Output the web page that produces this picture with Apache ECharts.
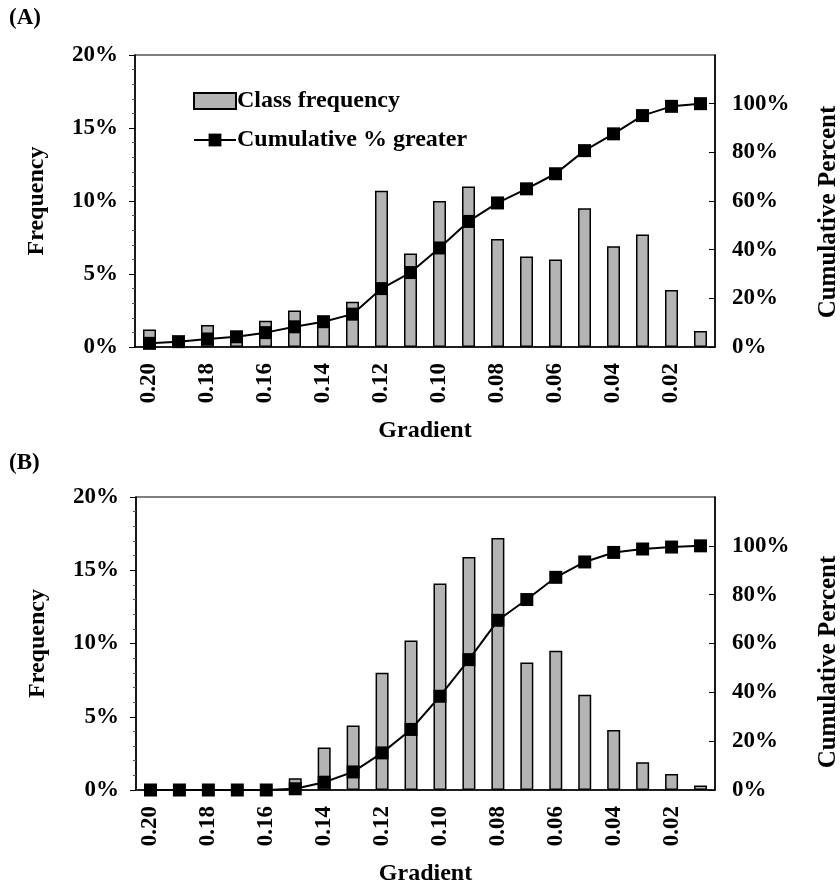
<!DOCTYPE html>
<html>
<head>
<meta charset="utf-8">
<script src="https://cdn.jsdelivr.net/npm/echarts@6/dist/echarts.min.js"></script>
<style>html,body{margin:0;padding:0;background:#fff;}#c{width:840px;height:887px;}</style>
</head>
<body>
<div id="c"></div>
<script>
const categories = ['0.20','0.19','0.18','0.17','0.16','0.15','0.14','0.13','0.12','0.11','0.10','0.09','0.08','0.07','0.06','0.05','0.04','0.03','0.02','0.01'];
const freqA = [1.2,0.4,1.5,0.6,1.8,2.5,1.8,3.1,10.7,6.4,10.0,11.0,7.4,6.2,6.0,9.5,6.9,7.7,3.9,1.1];
const cumA  = [1.5,2.2,3.3,4.2,5.9,8.3,10.4,13.5,24.0,30.6,40.7,51.6,59.2,65.0,71.2,80.7,87.6,95.1,98.9,100];
const freqB = [0,0,0,0,0,0.8,2.9,4.4,8.0,10.2,14.1,15.9,17.2,8.7,9.5,6.5,4.1,1.9,1.1,0.3];
const cumB  = [0,0,0,0,0,0.5,3.2,7.4,15.2,24.8,38.4,53.4,69.5,78.0,87.1,93.4,97.3,98.7,99.5,100];
const freqTicks = {min:0, max:20, interval:5};
const cumTicks = {min:0, max:120, interval:20};

const FONT = 'Liberation Serif';
const chart = echarts.init(document.getElementById('c'), null, {renderer:'canvas'});

function xAx(gi){
  return {
    type:'category', gridIndex:gi, data:categories, boundaryGap:true,
    axisLine:{lineStyle:{color:'#000', width:1.5}},
    axisTick:{show:false},
    axisLabel:{interval:1, rotate:90, margin:16, color:'#000', fontFamily:FONT, fontWeight:'bold', fontSize:23},
    name:'Gradient', nameLocation:'middle', nameGap:72,
    nameTextStyle:{color:'#000', fontFamily:FONT, fontWeight:'bold', fontSize:24}
  };
}
function yLeft(gi){
  return {
    type:'value', gridIndex:gi, position:'left', min:freqTicks.min, max:freqTicks.max, interval:freqTicks.interval,
    axisLine:{show:true, lineStyle:{color:'#000', width:1.5}},
    axisTick:{show:true, inside:false, length:6, lineStyle:{color:'#000'}},
    minorTick:{show:true, splitNumber:5, length:3, lineStyle:{color:'#555'}},
    splitLine:{show:false},
    axisLabel:{margin:17, formatter:'{value}%', color:'#000', fontFamily:FONT, fontWeight:'bold', fontSize:23},
    name:'Frequency', nameLocation:'middle', nameGap:86,
    nameTextStyle:{color:'#000', fontFamily:FONT, fontWeight:'bold', fontSize:24}
  };
}
function yRight(gi){
  return {
    type:'value', gridIndex:gi, position:'right', min:cumTicks.min, max:cumTicks.max, interval:cumTicks.interval,
    axisLine:{show:true, lineStyle:{color:'#000', width:1.5}},
    axisTick:{show:true, inside:true, length:6, lineStyle:{color:'#000'}},
    splitLine:{show:false},
    axisLabel:{margin:17, showMaxLabel:false, formatter:'{value}%', color:'#000', fontFamily:FONT, fontWeight:'bold', fontSize:23}
  };
}
function barS(name, xi, yi, data){
  return {name:name, type:'bar', xAxisIndex:xi, yAxisIndex:yi, data:data, barWidth:13,
    itemStyle:{color:'#b4b4b4', borderColor:'#000', borderWidth:1.5}};
}
function lineS(name, xi, yi, data){
  return {name:name, type:'line', xAxisIndex:xi, yAxisIndex:yi, data:data,
    symbol:'rect', symbolSize:13, showSymbol:true,
    lineStyle:{color:'#000', width:2}, itemStyle:{color:'#000'}};
}

const option = {
  animation:false,
  textStyle:{fontFamily:FONT},
  grid:[
    {left:135, right:125, top:55, height:292, show:true, borderColor:'#000', borderWidth:1.2, backgroundColor:'transparent'},
    {left:136, right:125, top:497, height:293, show:true, borderColor:'#000', borderWidth:1.2, backgroundColor:'transparent'}
  ],
  xAxis:[xAx(0), xAx(1)],
  yAxis:[yLeft(0), yRight(0), yLeft(1), yRight(1)],
  legend:{
    orient:'vertical', left:188, top:84, itemWidth:42, itemHeight:16, itemGap:15,
    data:[{name:'Class frequency', icon:'rect'}, 'Cumulative % greater'],
    textStyle:{color:'#000', fontFamily:FONT, fontWeight:'bold', fontSize:24, padding:[0,0,0,-4]}
  },
  series:[
    barS('Class frequency',0,0,freqA),
    lineS('Cumulative % greater',0,1,cumA),
    barS('Class frequency B',1,2,freqB),
    lineS('Cumulative % greater B',1,3,cumB)
  ],
  graphic:[
    {type:'text', left:9, top:7, style:{text:'(A)', font:'bold 23px "Liberation Serif"', fill:'#000'}},
    {type:'text', left:9, top:452, style:{text:'(B)', font:'bold 23px "Liberation Serif"', fill:'#000'}},
    {type:'text', x:829, y:212, rotation:Math.PI/2, style:{text:'Cumulative Percent', font:'bold 25px "Liberation Serif"', fill:'#000', align:'center', verticalAlign:'middle'}},
    {type:'text', x:829, y:662, rotation:Math.PI/2, style:{text:'Cumulative Percent', font:'bold 25px "Liberation Serif"', fill:'#000', align:'center', verticalAlign:'middle'}}
  ]
};
chart.setOption(option);
</script>
</body>
</html>
